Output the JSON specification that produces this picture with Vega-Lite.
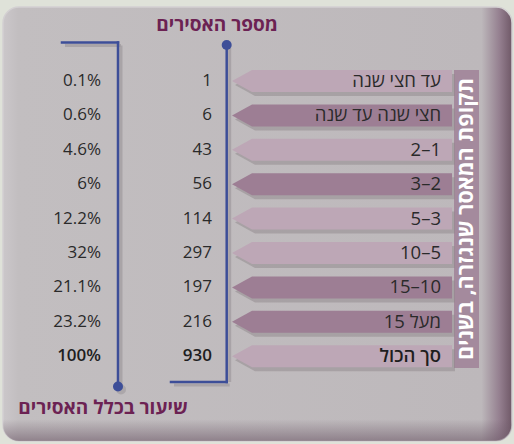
{
  "$schema": "https://vega.github.io/schema/vega-lite/v6.json",
  "width": 514,
  "height": 444,
  "autosize": {"type": "fit", "contains": "padding"},
  "padding": 0,
  "background": "#dfe2d9",
  "config": {"view": {"stroke": null}, "font": "Open Sans"},
  "datasets": {
    "rows": [
      {"row": 1, "period": "עד חצי שנה", "count": 1, "pct": 0.001, "shade": "light", "total": false},
      {"row": 2, "period": "חצי שנה עד שנה", "count": 6, "pct": 0.006, "shade": "dark", "total": false},
      {"row": 3, "period": "2–1", "count": 43, "pct": 0.046, "shade": "light", "total": false},
      {"row": 4, "period": "3–2", "count": 56, "pct": 0.06, "shade": "dark", "total": false},
      {"row": 5, "period": "5–3", "count": 114, "pct": 0.122, "shade": "light", "total": false},
      {"row": 6, "period": "10–5", "count": 297, "pct": 0.32, "shade": "light", "total": false},
      {"row": 7, "period": "15–10", "count": 197, "pct": 0.211, "shade": "dark", "total": false},
      {"row": 8, "period": "מעל 15", "count": 216, "pct": 0.232, "shade": "dark", "total": false},
      {"row": 9, "period": "סך הכול", "count": 930, "pct": 1, "shade": "light", "total": true}
    ]
  },
  "layer": [
    {
      "data": {"values": [{}]},
      "mark": {"type": "rect", "cornerRadius": 16, "stroke": "#d3d0d2", "strokeWidth": 1.5,
        "color": {"gradient": "linear", "x1": 0, "y1": 0, "x2": 1, "y2": 0,
          "stops": [{"offset": 0, "color": "#cbc7ca"}, {"offset": 0.03, "color": "#c2bec0"}, {"offset": 0.94, "color": "#bdb8bb"}, {"offset": 0.975, "color": "#958090"}, {"offset": 1, "color": "#6f5867"}]}},
      "encoding": {
        "x": {"datum": 3, "type": "quantitative", "scale": {"domain": [0, 514], "nice": false, "zero": false}, "axis": null},
        "x2": {"datum": 512},
        "y": {"datum": -1.151, "type": "quantitative", "scale": {"domain": [-1.355, 11.552], "reverse": true, "nice": false, "zero": false}, "axis": null},
        "y2": {"datum": 11.465}
      }
    },
    {
      "data": {"values": [{}]},
      "mark": {"type": "rect", "cornerRadius": 16,
        "color": {"gradient": "linear", "x1": 0, "y1": 0, "x2": 0, "y2": 1,
          "stops": [{"offset": 0, "color": "rgba(110,90,105,0)"}, {"offset": 0.95, "color": "rgba(110,90,105,0)"}, {"offset": 1, "color": "rgba(110,90,105,0.6)"}]}},
      "encoding": {
        "x": {"datum": 3, "type": "quantitative"},
        "x2": {"datum": 512},
        "y": {"datum": -1.151, "type": "quantitative"},
        "y2": {"datum": 11.465}
      }
    },
    {
      "data": {"values": [{}]},
      "mark": {"type": "rect", "color": "#a48a9d"},
      "encoding": {
        "x": {"datum": 454, "type": "quantitative"},
        "x2": {"datum": 479},
        "y": {"datum": 0.68, "type": "quantitative"},
        "y2": {"datum": 9.343}
      }
    },
    {
      "data": {"values": [{}]},
      "mark": {"type": "text", "text": "תקופת המאסר שנגזרה, בשנים", "angle": 270, "fontSize": 21.5, "fontWeight": "bold", "color": "#ffffff", "align": "center", "baseline": "middle"},
      "encoding": {
        "x": {"datum": 467, "type": "quantitative"},
        "y": {"datum": 5.01, "type": "quantitative"}
      }
    },
    {
      "data": {"name": "rows"},
      "mark": {"type": "point", "shape": "M-10,0L-8.18,-1L10,-1L10,1L-8.18,1Z", "size": 484, "filled": true, "opacity": 0.5, "strokeWidth": 0, "color": "#8f888c", "xOffset": 3, "yOffset": 4},
      "encoding": {
        "x": {"datum": 342, "type": "quantitative"},
        "y": {"field": "row", "type": "quantitative"}
      }
    },
    {
      "data": {"name": "rows"},
      "mark": {"type": "point", "shape": "M-10,0L-8.18,-1L10,-1L10,1L-8.18,1Z", "size": 484, "filled": true, "opacity": 1, "strokeWidth": 0},
      "encoding": {
        "x": {"datum": 342, "type": "quantitative"},
        "y": {"field": "row", "type": "quantitative"},
        "color": {"field": "shade", "type": "nominal", "scale": {"domain": ["light", "dark"], "range": ["#bda7b6", "#9d7e94"]}, "legend": null}
      }
    },
    {
      "data": {"name": "rows"},
      "transform": [{"filter": "!datum.total"}],
      "mark": {"type": "text", "align": "right", "baseline": "middle", "fontSize": 18.5, "color": "#2a2a2a"},
      "encoding": {
        "x": {"datum": 441, "type": "quantitative"},
        "y": {"field": "row", "type": "quantitative"},
        "text": {"field": "period"}
      }
    },
    {
      "data": {"name": "rows"},
      "transform": [{"filter": "datum.total"}],
      "mark": {"type": "text", "align": "right", "baseline": "middle", "fontSize": 18.5, "fontWeight": 600, "color": "#1e1e1e"},
      "encoding": {
        "x": {"datum": 441, "type": "quantitative"},
        "y": {"field": "row", "type": "quantitative"},
        "text": {"field": "period"}
      }
    },
    {
      "data": {"name": "rows"},
      "transform": [{"filter": "!datum.total"}],
      "mark": {"type": "text", "align": "right", "baseline": "middle", "fontSize": 17, "color": "#2a2a2a"},
      "encoding": {
        "x": {"datum": 212, "type": "quantitative"},
        "y": {"field": "row", "type": "quantitative"},
        "text": {"field": "count", "type": "quantitative"}
      }
    },
    {
      "data": {"name": "rows"},
      "transform": [{"filter": "datum.total"}],
      "mark": {"type": "text", "align": "right", "baseline": "middle", "fontSize": 17, "fontWeight": 600, "color": "#1e1e1e"},
      "encoding": {
        "x": {"datum": 212, "type": "quantitative"},
        "y": {"field": "row", "type": "quantitative"},
        "text": {"field": "count", "type": "quantitative"}
      }
    },
    {
      "data": {"name": "rows"},
      "transform": [{"filter": "!datum.total"}],
      "mark": {"type": "text", "align": "right", "baseline": "middle", "fontSize": 17, "color": "#2a2a2a"},
      "encoding": {
        "x": {"datum": 101, "type": "quantitative"},
        "y": {"field": "row", "type": "quantitative"},
        "text": {"field": "pct", "type": "quantitative", "format": ".1~%"}
      }
    },
    {
      "data": {"name": "rows"},
      "transform": [{"filter": "datum.total"}],
      "mark": {"type": "text", "align": "right", "baseline": "middle", "fontSize": 17, "fontWeight": 600, "color": "#1e1e1e"},
      "encoding": {
        "x": {"datum": 101, "type": "quantitative"},
        "y": {"field": "row", "type": "quantitative"},
        "text": {"field": "pct", "type": "quantitative", "format": ".1~%"}
      }
    },
    {
      "data": {"values": [{}]},
      "mark": {"type": "rule", "color": "#a39ea1", "strokeWidth": 3, "opacity": 0.8, "xOffset": 3, "yOffset": 3},
      "encoding": {"x": {"datum": 226.7, "type": "quantitative"}, "y": {"datum": -0.047, "type": "quantitative"}, "y2": {"datum": 9.75}}
    },
    {
      "data": {"values": [{}]},
      "mark": {"type": "rule", "color": "#a39ea1", "strokeWidth": 3, "opacity": 0.8, "yOffset": 3, "y2Offset": 3, "xOffset": 3, "x2Offset": 3},
      "encoding": {"x": {"datum": 171, "type": "quantitative"}, "x2": {"datum": 226.7}, "y": {"datum": 9.75, "type": "quantitative"}}
    },
    {
      "data": {"values": [{}]},
      "mark": {"type": "rule", "color": "#a39ea1", "strokeWidth": 3, "opacity": 0.8, "yOffset": 3, "y2Offset": 3, "xOffset": 3, "x2Offset": 3},
      "encoding": {"x": {"datum": 62, "type": "quantitative"}, "x2": {"datum": 118}, "y": {"datum": -0.119, "type": "quantitative"}}
    },
    {
      "data": {"values": [{}]},
      "mark": {"type": "rule", "color": "#a39ea1", "strokeWidth": 3, "opacity": 0.8, "xOffset": 3, "yOffset": 3, "y2Offset": 3},
      "encoding": {"x": {"datum": 118, "type": "quantitative"}, "y": {"datum": -0.119, "type": "quantitative"}, "y2": {"datum": 9.88}}
    },
    {
      "data": {"values": [{}]},
      "mark": {"type": "rule", "color": "#3d4e98", "strokeWidth": 2.5, "strokeCap": "square"},
      "encoding": {"x": {"datum": 226.7, "type": "quantitative"}, "y": {"datum": -0.047, "type": "quantitative"}, "y2": {"datum": 9.75}}
    },
    {
      "data": {"values": [{}]},
      "mark": {"type": "rule", "color": "#3d4e98", "strokeWidth": 2.5, "strokeCap": "square"},
      "encoding": {"x": {"datum": 171, "type": "quantitative"}, "x2": {"datum": 226.7}, "y": {"datum": 9.75, "type": "quantitative"}}
    },
    {
      "data": {"values": [{}]},
      "mark": {"type": "rule", "color": "#3d4e98", "strokeWidth": 2.5, "strokeCap": "square"},
      "encoding": {"x": {"datum": 62, "type": "quantitative"}, "x2": {"datum": 118}, "y": {"datum": -0.119, "type": "quantitative"}}
    },
    {
      "data": {"values": [{}]},
      "mark": {"type": "rule", "color": "#3d4e98", "strokeWidth": 2.5, "strokeCap": "square"},
      "encoding": {"x": {"datum": 118, "type": "quantitative"}, "y": {"datum": -0.119, "type": "quantitative"}, "y2": {"datum": 9.88}}
    },
    {
      "data": {"values": [{}]},
      "mark": {"type": "point", "shape": "circle", "filled": true, "opacity": 0.7, "size": 100, "color": "#a39ea1", "xOffset": 3, "yOffset": 3},
      "encoding": {"x": {"datum": 118, "type": "quantitative"}, "y": {"datum": 9.88, "type": "quantitative"}}
    },
    {
      "data": {"values": [{}]},
      "mark": {"type": "point", "shape": "circle", "filled": true, "opacity": 1, "size": 100, "color": "#3d4e98"},
      "encoding": {"x": {"datum": 226.7, "type": "quantitative"}, "y": {"datum": -0.047, "type": "quantitative"}}
    },
    {
      "data": {"values": [{}]},
      "mark": {"type": "point", "shape": "circle", "filled": true, "opacity": 1, "size": 100, "color": "#3d4e98"},
      "encoding": {"x": {"datum": 118, "type": "quantitative"}, "y": {"datum": 9.88, "type": "quantitative"}}
    },
    {
      "data": {"values": [{}]},
      "mark": {"type": "text", "text": "מספר האסירים", "fontSize": 19, "fontWeight": "bold", "color": "#6c2253", "align": "center", "baseline": "middle"},
      "encoding": {"x": {"datum": 217, "type": "quantitative"}, "y": {"datum": -0.62, "type": "quantitative"}}
    },
    {
      "data": {"values": [{}]},
      "mark": {"type": "text", "text": "שיעור בכלל האסירים", "fontSize": 19, "fontWeight": "bold", "color": "#6c2253", "align": "center", "baseline": "middle"},
      "encoding": {"x": {"datum": 103, "type": "quantitative"}, "y": {"datum": 10.5, "type": "quantitative"}}
    }
  ]
}
